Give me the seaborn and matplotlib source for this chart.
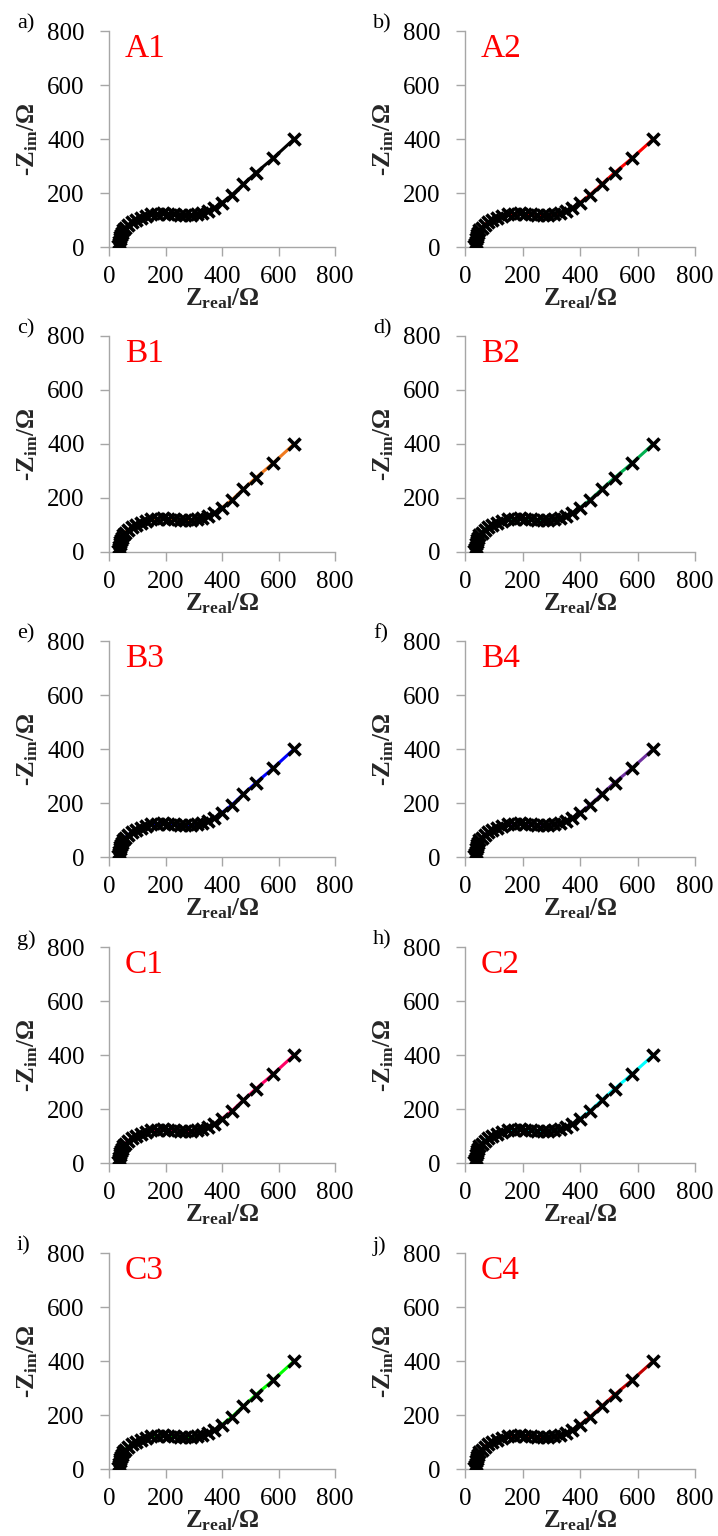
import matplotlib
matplotlib.use("Agg")
import matplotlib.pyplot as plt
import seaborn as sns
import pandas as pd

# ---- data ----
panel_letters = ["a)", "b)", "c)", "d)", "e)", "f)", "g)", "h)", "i)", "j)"]
sample_names = ["A1", "A2", "B1", "B2", "B3", "B4", "C1", "C2", "C3", "C4"]
line_colors = ["#000000", "#FF0000", "#F07A1E", "#00B050", "#0000FF",
               "#7030A0", "#FF0066", "#00FFFF", "#00FF00", "#C00000"]

z_real = [33, 35, 37, 38, 40, 42, 45, 50, 58, 68, 80, 95, 112, 130, 150, 170,
          190, 210, 230, 250, 270, 290, 310, 330, 350, 372, 400, 435, 475, 520,
          580, 655]
z_im = [5, 12, 20, 28, 36, 44, 52, 62, 72, 82, 92, 101, 109, 116, 121, 124,
        125, 124, 122, 120, 119, 119, 121, 125, 132, 143, 164, 193, 232, 275,
        328, 400]

ticks = [0, 200, 400, 600, 800]
tick_labels = ["0", "200", "400", "600", "800"]

# ---- style ----
sns.set_theme(style="ticks")
plt.rcParams["font.family"] = ["Liberation Serif", "DejaVu Serif"]
plt.rcParams["mathtext.fontset"] = "custom"
plt.rcParams["mathtext.rm"] = "Liberation Serif"
plt.rcParams["mathtext.bf"] = "Liberation Serif:bold"
plt.rcParams["mathtext.it"] = "Liberation Serif:italic"

W, H = 718, 1536
fig = plt.figure(figsize=(W / 100, H / 100), dpi=100)

col_left = [109, 465]
col_width = [226, 230]
row_top = [31, 336, 641, 947, 1253]
ax_h = 216
axis_gray = "#A6A6A6"

df = pd.DataFrame({"x": z_real, "y": z_im})

for i in range(10):
    r, c = divmod(i, 2)
    left = col_left[c]
    top = row_top[r]
    ax = fig.add_axes([left / W, 1 - (top + ax_h) / H, col_width[c] / W, ax_h / H])

    sns.lineplot(data=df, x="x", y="y", sort=False, ax=ax,
                 color=line_colors[i], linewidth=2.2, zorder=2)
    sns.scatterplot(data=df, x="x", y="y", ax=ax, marker="x", color="black",
                    s=75, linewidth=2.6, zorder=3)

    ax.set_xlim(0, 800)
    ax.set_ylim(0, 800)
    ax.set_xticks(ticks)
    ax.set_xticklabels(tick_labels)
    ax.set_yticks(ticks)
    ax.set_yticklabels(tick_labels)
    for s in ["top", "right"]:
        ax.spines[s].set_visible(False)
    for s in ["left", "bottom"]:
        ax.spines[s].set_color(axis_gray)
        ax.spines[s].set_linewidth(1.0)
    ax.tick_params(axis="both", colors=axis_gray, labelcolor="black",
                   labelsize=18, length=6.5, width=1.0, direction="out")
    ax.tick_params(axis="x", pad=7)
    ax.tick_params(axis="y", pad=11)

    ax.set_xlabel(r"$\mathbf{Z}_{\mathbf{real}}$/Ω", fontsize=18,
                  fontweight="bold", labelpad=-1)
    ax.set_ylabel(r"-$\mathbf{Z}_{\mathbf{im}}$/Ω", fontsize=18,
                  fontweight="bold", labelpad=5)

    ax.text(0.07, 0.88, sample_names[i], transform=ax.transAxes,
            color="#FF0000", fontsize=24, va="baseline", ha="left")

    fig.text((left - 92) / W, 1 - (top - 7) / H, panel_letters[i],
             fontsize=16, ha="left", va="center", color="black")

fig.savefig("out.png", dpi=100)
